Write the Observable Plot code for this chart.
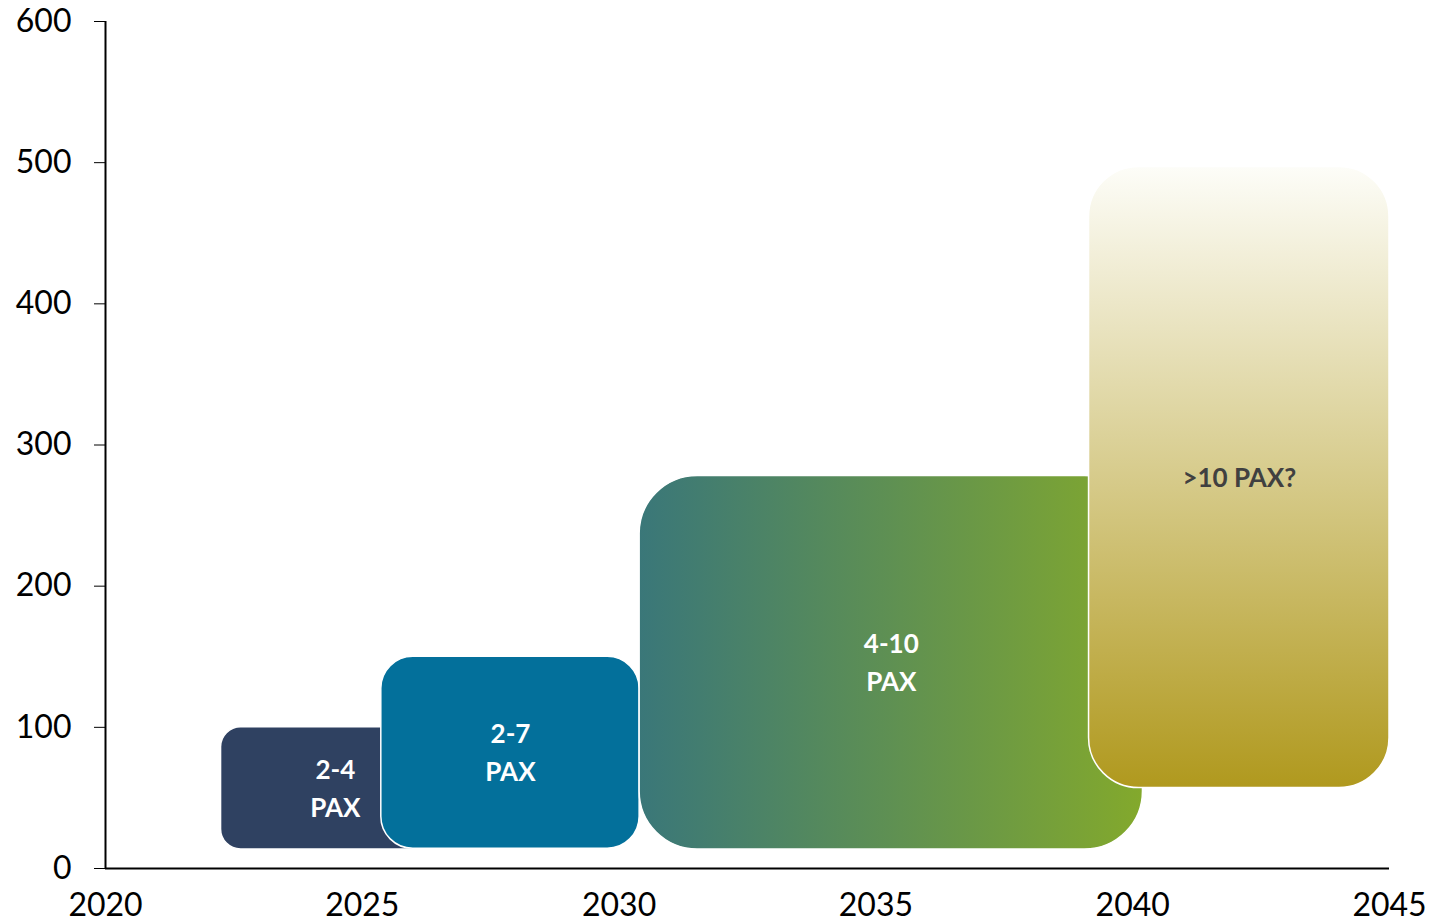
<!DOCTYPE html>
<html>
<head>
<meta charset="utf-8">
<script src="https://cdn.jsdelivr.net/npm/d3@7"></script>
<script src="https://cdn.jsdelivr.net/npm/@observablehq/plot@0.6"></script>
<style>
  html, body { margin: 0; padding: 0; background: #fff; }
  #chart { width: 1430px; height: 923px; }
</style>
</head>
<body>
<div id="chart"></div>
<script>
// ---- data ----
const labels = ["2-4\nPAX", "2-7\nPAX", "4-10\nPAX", ">10 PAX?"];
const startYear = [2022.25, 2025.37, 2030.4, 2039.15];
const endYear = [2026.7, 2030.4, 2040.2, 2045];
const lowValue = [13.5, 14, 13.5, 57];
const highValue = [100, 150, 278, 497];
const xTicks = [2020, 2025, 2030, 2035, 2040, 2045];
const yTicks = [0, 100, 200, 300, 400, 500, 600];

// ---- styles ----
const fills = ["#2f4161", "#03709b", "url(#grad410)", "url(#grad10)"];
const radii = [20, 32, 58, 50];
const textColors = ["#ffffff", "#ffffff", "#ffffff", "#404040"];

const rows = labels.map((label, i) => ({
  label, x1: startYear[i], x2: endYear[i], y1: lowValue[i], y2: highValue[i]
}));

const rectMarks = rows.map((r, i) => Plot.rect([r], {
  x1: "x1", x2: "x2", y1: "y1", y2: "y2",
  fill: fills[i], stroke: "white", strokeWidth: 1.5, rx: radii[i]
}));

const textMarks = rows.map((r, i) => Plot.text([r], {
  x: d => (d.x1 + d.x2) / 2,
  y: d => (d.y1 + d.y2) / 2,
  text: "label",
  fill: textColors[i],
  fontSize: 26,
  fontWeight: "bold",
  lineHeight: 1.47,
  lineAnchor: "middle",
  dy: -3
}));

const chart = Plot.plot({
  width: 1430,
  height: 923,
  marginLeft: 105,
  marginRight: 41,
  marginTop: 21,
  marginBottom: 55,
  style: { fontFamily: "Lato, 'Open Sans', sans-serif", fontSize: "32px", color: "#000", background: "#fff" },
  x: { domain: [2020, 2045], ticks: xTicks, tickFormat: d => String(d), tickSize: 0, tickPadding: 25, label: null },
  y: { domain: [0, 600], ticks: yTicks, tickSize: 11, tickPadding: 23, label: null },
  marks: [
    ...rectMarks,
    ...textMarks,
    Plot.ruleY([0], { stroke: "#000", strokeWidth: 2 }),
    Plot.ruleX([2020], { stroke: "#000", strokeWidth: 2 })
  ]
});

// gradients
const svg = d3.select(chart.tagName.toLowerCase() === "svg" ? chart : chart.querySelector("svg"));
const defs = svg.insert("defs", ":first-child");
const g1 = defs.append("linearGradient").attr("id", "grad410")
  .attr("x1", "0").attr("y1", "0").attr("x2", "1").attr("y2", "0");
g1.append("stop").attr("offset", "0").attr("stop-color", "#3a7779");
g1.append("stop").attr("offset", "1").attr("stop-color", "#83a92c");
const g2 = defs.append("linearGradient").attr("id", "grad10")
  .attr("x1", "0").attr("y1", "0").attr("x2", "0").attr("y2", "1");
g2.append("stop").attr("offset", "0").attr("stop-color", "#fdfdf8");
g2.append("stop").attr("offset", "1").attr("stop-color", "#b0991e");

document.getElementById("chart").appendChild(chart);
</script>
</body>
</html>
